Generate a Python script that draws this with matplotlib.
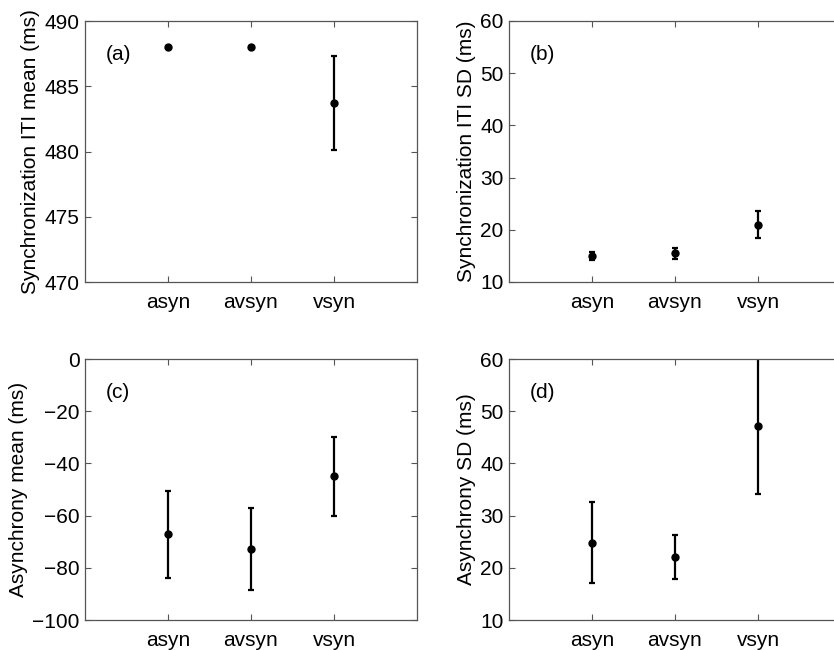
import numpy as np
import matplotlib
matplotlib.use('Agg')
import matplotlib.pyplot as plt

plt.rcParams['font.family'] = ['Liberation Sans', 'DejaVu Sans']
plt.rcParams['font.size'] = 15

conditions = ['asyn', 'avsyn', 'vsyn']

# (a) synchronization ITI mean
iti_mean = [488.0, 488.0, 483.75]
iti_mean_err = [0.05, 0.05, 3.6]
# (b) synchronization ITI SD
iti_sd = [15.0, 15.5, 21.0]
iti_sd_err = [0.8, 1.1, 2.6]
# (c) asynchrony mean
asy_mean = [-67.2, -72.8, -45.0]
asy_mean_err = [16.7, 15.6, 15.0]
# (d) asynchrony SD
asy_sd = [24.8, 22.1, 47.1]
asy_sd_err = [7.75, 4.2, 13.0]

panels = [
    (iti_mean, iti_mean_err, 'Synchronization ITI mean (ms)', (470, 490), np.arange(470, 491, 5), '(a)'),
    (iti_sd, iti_sd_err, 'Synchronization ITI SD (ms)', (10, 60), np.arange(10, 61, 10), '(b)'),
    (asy_mean, asy_mean_err, 'Asynchrony mean (ms)', (-100, 0), np.arange(-100, 1, 20), '(c)'),
    (asy_sd, asy_sd_err, 'Asynchrony SD (ms)', (10, 60), np.arange(10, 61, 10), '(d)'),
]

W, H = 834, 650
fig = plt.figure(figsize=(W / 100, H / 100), dpi=100)

# pixel boxes (left, top) ; panel (b)/(d) run off the right edge like the original
boxes = [(85, 21), (509, 21), (85, 359), (509, 359)]
bw, bh = 332, 261

x = np.arange(1, 4)
for (vals, errs, ylab, ylim, yticks, tag), (l, t) in zip(panels, boxes):
    ax = fig.add_axes([l / W, 1 - (t + bh) / H, bw / W, bh / H])
    ax.errorbar(x, vals, yerr=errs, fmt='o', color='black', ms=5,
                elinewidth=1.6, capsize=2, capthick=1.6)
    ax.set_xlim(0, 4)
    ax.set_ylim(*ylim)
    ax.set_xticks(x)
    ax.set_xticklabels(conditions)
    ax.set_yticks(yticks)
    ax.set_yticklabels([str(v).replace('-', '\u2212') for v in yticks])
    ax.set_ylabel(ylab, labelpad=3)
    ax.tick_params(direction='in', top=True, right=True, length=4,
                   color='#555555', width=0.8, labelsize=15, pad=4)
    ax.tick_params(axis='x', pad=8)
    for sp in ax.spines.values():
        sp.set_color('#555555')
        sp.set_linewidth(0.9)
    ax.text(0.1, 0.87, tag, transform=ax.transAxes, ha='center', va='center',
            fontsize=15)

fig.savefig('out.png', dpi=100)
